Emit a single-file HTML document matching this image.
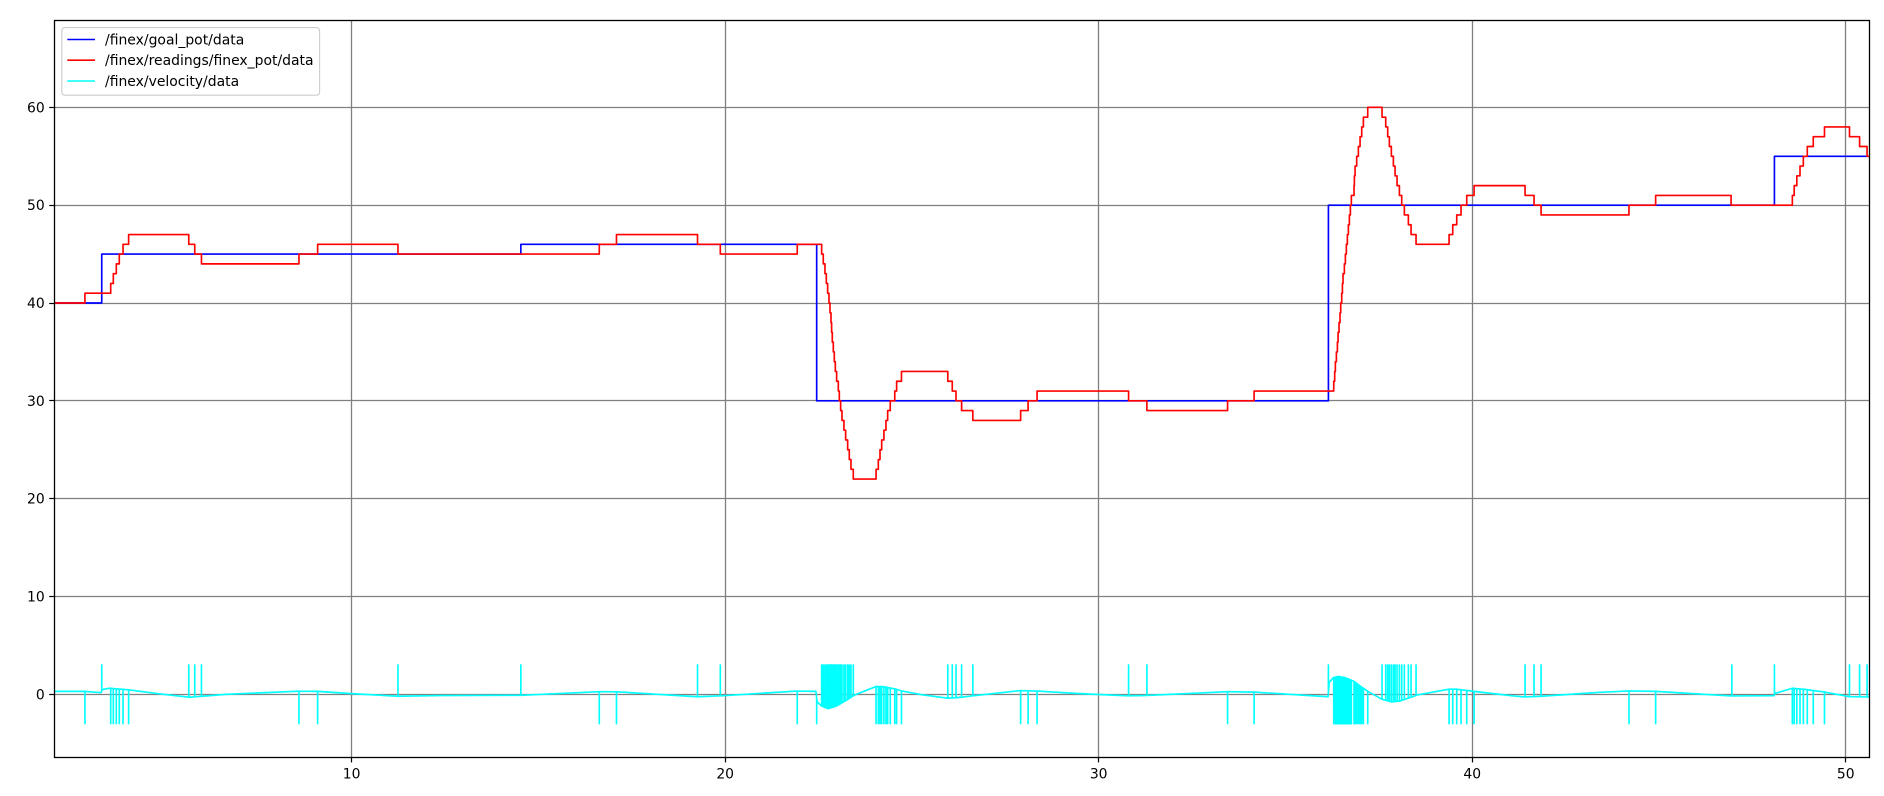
<!DOCTYPE html>
<html lang="en">
<head>
<meta charset="utf-8">
<title>Finex signals</title>
<style>
html,body{margin:0;padding:0;background:#fff;}
svg{display:block;}
text{font-family:"DejaVu Sans","Liberation Sans",sans-serif;fill:#000;}
</style>
</head>
<body>
<svg id="chart" xmlns="http://www.w3.org/2000/svg" width="1884" height="796" viewBox="0 0 1884 796">
  <defs>
    <clipPath id="plot-clip"><rect x="54.3" y="20" width="1815" height="737.3"></rect></clipPath>
  </defs>
  <rect x="0" y="0" width="1884" height="796" fill="#ffffff"></rect>
  <g id="grid"></g>
  <g id="series" clip-path="url(#plot-clip)"></g>
  <g id="ticks"></g>
  <rect x="54.5" y="20.5" width="1815" height="737" fill="none" stroke="#000" stroke-width="1.3"></rect>
  <g>
    <rect x="61.8" y="27.6" width="257.8" height="67.6" rx="3" ry="3" fill="#ffffff" fill-opacity="0.8" stroke="#cccccc" stroke-width="1.11"></rect>
    <line x1="67.3" x2="95" y1="39.5" y2="39.5" stroke="#0000ff" stroke-width="1.6"></line>
    <text x="105" y="44.4" font-size="13.95">/finex/goal_pot/data</text>
    <line x1="67.3" x2="95" y1="60.2" y2="60.2" stroke="#ff0000" stroke-width="1.6"></line>
    <text x="105" y="65.1" font-size="13.95">/finex/readings/finex_pot/data</text>
    <line x1="67.3" x2="95" y1="81" y2="81" stroke="#00ffff" stroke-width="1.6"></line>
    <text x="105" y="85.9" font-size="13.95">/finex/velocity/data</text>
  </g>
</svg>
<script>
const xTickValues = [10, 20, 30, 40, 50];
const yTickValues = [0, 10, 20, 30, 40, 50, 60];
const xDomain = [2.04, 50.63];
const yDomain = [-6.44, 68.93];

const goalTimes = [2.04, 3.31, 14.53, 22.45, 36.15, 48.09];
const goalValues = [40, 45, 46, 30, 50, 55];

const readingTimes = [2.04, 2.86, 3.55, 3.62, 3.70, 3.78, 3.88, 4.03, 5.64, 5.80, 5.98, 8.59, 9.09, 11.24, 16.63, 17.09, 19.26, 19.87, 21.93,
  22.583, 22.627, 22.672, 22.708, 22.743, 22.779, 22.806, 22.833, 22.850, 22.868, 22.895, 22.922, 22.949, 22.984, 23.029, 23.056, 23.091, 23.127, 23.18, 23.225, 23.279, 23.323, 23.368, 23.43,
  24.04, 24.10, 24.145, 24.19, 24.25, 24.305, 24.35, 24.42, 24.54, 24.59, 24.72, 25.96, 26.08, 26.18, 26.33, 26.63, 27.91, 28.11, 28.35, 30.80, 31.29, 33.45, 34.16,
  36.292, 36.318, 36.336, 36.363, 36.39, 36.408, 36.434, 36.461, 36.479, 36.506, 36.525, 36.541, 36.577, 36.604, 36.63, 36.657, 36.684, 36.711, 36.738, 36.764, 36.836, 36.845, 36.863, 36.907, 36.952, 36.997, 37.041, 37.086, 37.202,
  37.586, 37.684, 37.737, 37.782, 37.835, 37.889, 37.934, 37.987, 38.05, 38.112, 38.183, 38.29, 38.362, 38.496, 39.38, 39.478, 39.585, 39.70, 39.853, 40.05, 41.414, 41.655, 41.843,
  44.196, 44.91, 46.93, 48.57, 48.62, 48.69, 48.775, 48.864, 48.97, 49.13, 49.43, 50.10, 50.37, 50.57];
const readingValues = [40, 41, 42, 43, 44, 45, 46, 47, 46, 45, 44, 45, 46, 45, 46, 47, 46, 45, 46,
  45, 44, 43, 42, 41, 40, 39, 38, 37, 36, 35, 34, 33, 32, 31, 30, 29, 28, 27, 26, 25, 24, 23, 22,
  23, 24, 25, 26, 27, 28, 29, 30, 31, 32, 33, 32, 31, 30, 29, 28, 29, 30, 31, 30, 29, 30, 31,
  32, 33, 34, 35, 36, 37, 38, 39, 40, 41, 42, 43, 44, 45, 46, 47, 48, 49, 50, 51, 52, 53, 54, 55, 56, 57, 58, 59, 60,
  59, 58, 57, 56, 55, 54, 53, 52, 51, 50, 49, 48, 47, 46, 47, 48, 49, 50, 51, 52, 51, 50, 49,
  50, 51, 50, 51, 52, 53, 54, 55, 56, 57, 58, 57, 56, 55];

const velocityBaseTimes = [2.04, 2.86, 3.29, 3.33, 3.53, 4.05, 4.96, 5.64, 6.00, 6.65, 8.59, 9.09, 10.0, 11.24, 12.35, 14.53, 16.66, 17.11, 19.26, 19.90, 21.93, 22.43,
  22.46, 22.58, 22.76, 22.98, 23.25, 23.45, 23.79, 24.04, 24.23, 24.55, 24.72, 25.30, 25.96, 26.33, 26.63, 27.91, 28.35, 29.50, 30.78, 31.29, 33.48, 34.19, 36.14,
  36.17, 36.28, 36.42, 36.60, 36.82, 37.09, 37.22, 37.58, 37.84, 38.07, 38.53, 39.38, 39.58, 40.05, 41.10, 41.41, 41.84, 43.42, 44.20, 44.91, 46.93, 48.08, 48.11, 48.57, 48.86, 49.42, 50.10, 50.63];
const velocityBaseValues = [0.3, 0.3, 0.17, 0.5, 0.62, 0.45, 0.0, -0.3, -0.2, 0.0, 0.32, 0.3, 0.07, -0.2, -0.13, -0.1, 0.27, 0.25, -0.25, -0.15, 0.33, 0.3,
  -0.75, -1.2, -1.47, -1.2, -0.6, -0.1, 0.42, 0.8, 0.78, 0.55, 0.35, -0.07, -0.4, -0.3, -0.15, 0.38, 0.33, 0.07, -0.15, -0.12, 0.27, 0.22, -0.25,
  1.2, 1.7, 1.82, 1.7, 1.35, 0.6, 0.27, -0.5, -0.78, -0.68, -0.07, 0.52, 0.52, 0.3, -0.17, -0.27, -0.2, 0.2, 0.34, 0.3, -0.17, -0.14, 0.1, 0.62, 0.52, 0.24, -0.24, -0.27];

const velocitySpikeTimes = [2.86, 3.31, 3.55, 3.62, 3.70, 3.78, 3.88, 4.03, 5.64, 5.80, 5.98, 8.59, 9.09, 11.24, 14.53, 16.63, 17.09, 19.26, 19.87, 21.93, 22.45,
  22.583, 22.627, 22.672, 22.708, 22.743, 22.779, 22.806, 22.833, 22.850, 22.868, 22.895, 22.922, 22.949, 22.984, 23.029, 23.056, 23.091, 23.127, 23.18, 23.225, 23.279, 23.323, 23.368, 23.43,
  24.04, 24.10, 24.145, 24.19, 24.25, 24.305, 24.35, 24.42, 24.54, 24.59, 24.72, 25.96, 26.08, 26.18, 26.33, 26.63, 27.91, 28.11, 28.35, 30.80, 31.29, 33.45, 34.16, 36.15,
  36.292, 36.318, 36.336, 36.363, 36.39, 36.408, 36.434, 36.461, 36.479, 36.506, 36.525, 36.541, 36.577, 36.604, 36.63, 36.657, 36.684, 36.711, 36.738, 36.764, 36.836, 36.845, 36.863, 36.907, 36.952, 36.997, 37.041, 37.086, 37.202,
  37.586, 37.684, 37.737, 37.782, 37.835, 37.889, 37.934, 37.987, 38.05, 38.112, 38.183, 38.29, 38.362, 38.496, 39.38, 39.478, 39.585, 39.70, 39.853, 40.05, 41.414, 41.655, 41.843,
  44.196, 44.91, 46.95, 48.09, 48.57, 48.62, 48.69, 48.775, 48.864, 48.97, 49.13, 49.43, 50.10, 50.37, 50.57];
const velocitySpikeValues = [-3, 3, -3, -3, -3, -3, -3, -3, 3, 3, 3, -3, -3, 3, 3, -3, -3, 3, 3, -3, -3,
  3, 3, 3, 3, 3, 3, 3, 3, 3, 3, 3, 3, 3, 3, 3, 3, 3, 3, 3, 3, 3, 3, 3, 3,
  -3, -3, -3, -3, -3, -3, -3, -3, -3, -3, -3, 3, 3, 3, 3, 3, -3, -3, -3, 3, 3, -3, -3, 3,
  -3, -3, -3, -3, -3, -3, -3, -3, -3, -3, -3, -3, -3, -3, -3, -3, -3, -3, -3, -3, -3, -3, -3, -3, -3, -3, -3, -3, -3,
  3, 3, 3, 3, 3, 3, 3, 3, 3, 3, 3, 3, 3, 3, -3, -3, -3, -3, -3, -3, 3, 3, 3,
  -3, -3, 3, 3, -3, -3, -3, -3, -3, -3, -3, -3, 3, 3, 3];

const SVG_NS = 'http://www.w3.org/2000/svg';
const plotLeft = 54.3, plotRight = 1869.3, plotTop = 20, plotBottom = 757.3;

function xScale(v) {
  return plotLeft + (v - xDomain[0]) / (xDomain[1] - xDomain[0]) * (plotRight - plotLeft);
}
function yScale(v) {
  return plotBottom - (v - yDomain[0]) / (yDomain[1] - yDomain[0]) * (plotBottom - plotTop);
}
function snap(p) {
  return Math.floor(p) + 0.5;
}
function make(tag, attrs, parent) {
  const el = document.createElementNS(SVG_NS, tag);
  Object.keys(attrs).forEach(function (k) { el.setAttribute(k, attrs[k]); });
  parent.appendChild(el);
  return el;
}
function stepPath(times, values) {
  let d = 'M' + xScale(times[0]).toFixed(2) + ' ' + yScale(values[0]).toFixed(2);
  for (let i = 1; i < times.length; i++) {
    const x = xScale(times[i]).toFixed(2);
    d += 'L' + x + ' ' + yScale(values[i - 1]).toFixed(2);
    d += 'L' + x + ' ' + yScale(values[i]).toFixed(2);
  }
  d += 'L' + xScale(xDomain[1]).toFixed(2) + ' ' + yScale(values[values.length - 1]).toFixed(2);
  return d;
}
function baseAt(t) {
  const ts = velocityBaseTimes, vs = velocityBaseValues;
  if (t <= ts[0]) return vs[0];
  for (let i = 1; i < ts.length; i++) {
    if (t <= ts[i]) {
      const f = (t - ts[i - 1]) / (ts[i] - ts[i - 1]);
      return vs[i - 1] + f * (vs[i] - vs[i - 1]);
    }
  }
  return vs[vs.length - 1];
}
function velocityPath() {
  const events = [];
  velocityBaseTimes.forEach(function (t, i) { events.push({ t: t, base: velocityBaseValues[i] }); });
  velocitySpikeTimes.forEach(function (t, i) { events.push({ t: t, spike: velocitySpikeValues[i] }); });
  events.sort(function (a, b) { return a.t - b.t; });
  let d = '';
  events.forEach(function (e, i) {
    const x = xScale(e.t).toFixed(2);
    if (e.spike !== undefined) {
      const b = yScale(baseAt(e.t)).toFixed(2);
      d += (i ? 'L' : 'M') + x + ' ' + b + 'L' + x + ' ' + yScale(e.spike).toFixed(2) + 'L' + x + ' ' + b;
    } else {
      d += (i ? 'L' : 'M') + x + ' ' + yScale(e.base).toFixed(2);
    }
  });
  return d;
}

const gridGroup = document.getElementById('grid');
const tickGroup = document.getElementById('ticks');
const seriesGroup = document.getElementById('series');

xTickValues.forEach(function (v) {
  const x = snap(xScale(v));
  const g = make('line', { x1: x, x2: x, y1: plotTop, y2: plotBottom, stroke: '#808080', 'stroke-width': 1.3 }, gridGroup);
  
  
  const t = make('line', { x1: x, x2: x, y1: plotBottom, y2: plotBottom + 5.1, stroke: '#000', 'stroke-width': 1.2 }, tickGroup);
  
  
  const l = make('text', { x: xScale(v), y: 778.5, 'font-size': 13.9, 'text-anchor': 'middle' }, tickGroup);
  
  
  l.textContent = String(v);
});
yTickValues.forEach(function (v) {
  const y = snap(yScale(v));
  const g = make('line', { x1: plotLeft, x2: plotRight, y1: y, y2: y, stroke: '#808080', 'stroke-width': 1.3 }, gridGroup);
  
  
  const t = make('line', { x1: plotLeft - 5.1, x2: plotLeft, y1: y, y2: y, stroke: '#000', 'stroke-width': 1.2 }, tickGroup);
  
  
  const l = make('text', { x: 44.7, y: yScale(v) + 5, 'font-size': 13.9, 'text-anchor': 'end' }, tickGroup);
  
  
  l.textContent = String(v);
});

const lineStyle = { fill: 'none', 'stroke-width': 1.65, 'stroke-linejoin': 'round' };
const goalLine = make('path', Object.assign({ d: stepPath(goalTimes, goalValues), stroke: '#0000ff' }, lineStyle), seriesGroup);


const readingLine = make('path', Object.assign({ d: stepPath(readingTimes, readingValues), stroke: '#ff0000' }, lineStyle), seriesGroup);


const velocityLine = make('path', Object.assign({ d: velocityPath(), stroke: '#00ffff' }, lineStyle), seriesGroup);


</script>
</body>
</html>
